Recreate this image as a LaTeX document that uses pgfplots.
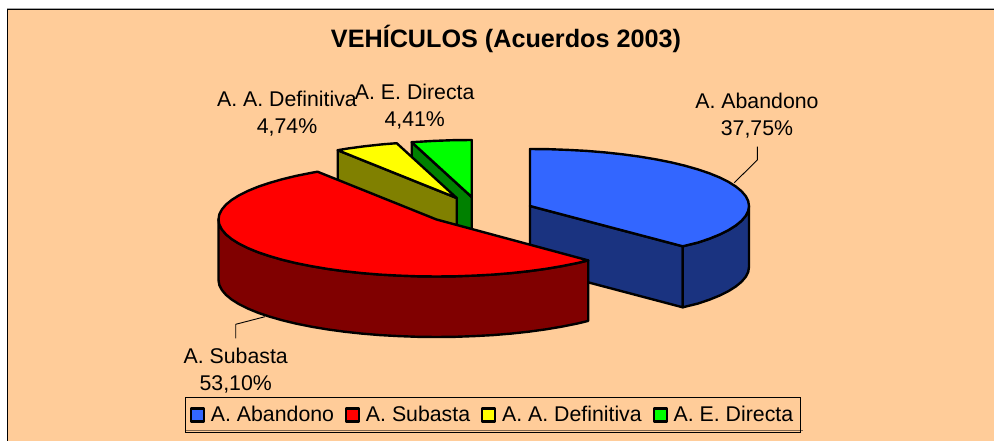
\documentclass[border=0pt]{standalone}
\usepackage{pgfplots}
\pgfplotsset{compat=1.18}
\usepackage{fontspec}
\setmainfont{Liberation Sans}
\definecolor{bg}{HTML}{FFCC99}
\definecolor{blueT}{HTML}{3366FF}
\definecolor{blueS}{HTML}{1A3380}
\definecolor{redT}{HTML}{FF0000}
\definecolor{redS}{HTML}{800000}
\definecolor{yelT}{HTML}{FFFF00}
\definecolor{yelS}{HTML}{808000}
\definecolor{greT}{HTML}{00FF00}
\definecolor{greS}{HTML}{008000}
\begin{document}
\begin{tikzpicture}
\begin{axis}[
  scale only axis, width=994pt, height=441pt,
  xmin=0, xmax=994, ymin=0, ymax=441, y dir=reverse,
  hide axis,
  legend cell align=left,
  legend style={at={(axis cs:184.5,397)}, anchor=north west, legend columns=4,
    draw=black, line width=1pt, fill=none, inner xsep=5pt, inner ysep=7pt,
    font=\fontsize{21.3}{25}\selectfont,
    /tikz/column 1/.style={column sep=3.7pt},
    /tikz/column 3/.style={column sep=3.7pt},
    /tikz/column 5/.style={column sep=3.7pt},
    /tikz/column 7/.style={column sep=3.7pt},
    /tikz/column 2/.style={column sep=9pt},
    /tikz/column 4/.style={column sep=9pt},
    /tikz/column 6/.style={column sep=9pt},
    nodes={inner sep=2pt, line width=0pt}},
  legend image code/.code={\draw[#1, line width=2.2pt] (3pt,-6.5pt) rectangle (16pt,6.5pt);},
]
% legend entries
\addlegendimage{fill=blueT, draw=black}
\addlegendentry{A. Abandono}
\addlegendimage{fill=redT, draw=black}
\addlegendentry{A. Subasta}
\addlegendimage{fill=yelT, draw=black}
\addlegendentry{A. A. Definitiva}
\addlegendimage{fill=greT, draw=black}
\addlegendentry{A. E. Directa\hspace{4pt}}

% background
\addplot[forget plot, draw=gray!70, line width=1pt] coordinates {(7,8.2) (994,8.2)};
\addplot[forget plot, fill=bg, draw=none] coordinates {(7.5,9.5) (994,9.5) (994,441) (7.5,441)} -- cycle;
\addplot[forget plot, draw=black, line width=1.2pt] coordinates {(7.5,441) (7.5,9.5) (994,9.5)};

\pgfplotsset{every axis plot/.append style={line width=2.4pt, line join=round, draw=black, forget plot}}

% A. Abandono: inner cut face, outer face, top
\addplot[fill=blueS] coordinates {(530,206) (682.7,246.3) (682.7,307.3) (530,267)} -- cycle;
\addplot[fill=blueS] coordinates {(749,206) (748.2,211) (745.7,215.9) (741.5,220.8) (735.8,225.5) (728.5,230.1) (719.7,234.5) (709.4,238.7) (697.8,242.6) (682.7,246.3)
  (682.7,307.3) (697.8,303.6) (709.4,299.7) (719.7,295.5) (728.5,291.1) (735.8,286.5) (741.5,281.8) (745.7,276.9) (748.2,272) (749,267)} -- cycle;
\addplot[fill=blueT] coordinates {(530,149) (549.1,149.2) (568,149.9) (586.7,150.9) (604.9,152.4) (622.5,154.3) (639.5,156.6) (655.6,159.3) (670.8,162.3) (684.9,165.7) (697.8,169.4) (709.4,173.3) (719.7,177.5) (728.5,181.9) (735.8,186.5) (741.5,191.2) (745.7,196.1) (748.2,201) (749,206) (748.2,211) (745.7,215.9) (741.5,220.8) (735.8,225.5) (728.5,230.1) (719.7,234.5) (709.4,238.7) (697.8,242.6) (682.7,246.3) (530,206)} -- cycle;

% A. E. Directa
\addplot[fill=greS] coordinates {(411.7,142.2) (471.7,197) (471.7,258) (411.7,203)} -- cycle;
\addplot[fill=greT] coordinates {(411.7,142.2) (433.7,140.9) (452.6,140.2) (471.7,140) (471.7,197)} -- cycle;

% A. A. Definitiva
\addplot[fill=yelS] coordinates {(337.7,150.2) (456.7,198) (456.7,259) (337.7,211)} -- cycle;
\addplot[fill=yelT] coordinates {(337.7,150.2) (347.2,148.6) (364.2,146.3) (381.8,144.4) (396.7,143.2) (456.7,198)} -- cycle;

% A. Subasta: side and top
\addplot[fill=redS] coordinates {(588.2,260.4) (576.6,263.2) (561.5,266.2) (545.5,268.9) (528.6,271.2) (511.1,273.1) (492.9,274.6) (474.4,275.6) (455.5,276.3) (436.5,276.5) (417.5,276.3) (398.6,275.6) (380.1,274.6) (361.9,273.1) (344.4,271.2) (327.5,268.9) (311.5,266.2) (296.4,263.2) (282.4,259.8) (269.5,256.1) (257.9,252.2) (247.7,248) (238.9,243.6) (231.6,239) (225.9,234.3) (221.8,229.4) (219.3,224.5) (218.5,219.5)
 (218.5,280) (219.3,285) (221.8,289.9) (225.9,294.8) (231.6,299.5) (238.9,304.1) (247.7,308.5) (257.9,312.7) (269.5,316.6) (282.4,320.3) (296.4,323.7) (311.5,326.7) (327.5,329.4) (344.4,331.7) (361.9,333.6) (380.1,335.1) (398.6,336.1) (417.5,336.8) (436.5,337) (455.5,336.8) (474.4,336.1) (492.9,335.1) (511.1,333.6) (528.6,331.7) (545.5,329.4) (561.5,326.7) (576.6,323.7) (588.2,320.9)} -- cycle;
\addplot[fill=redT] coordinates {(588.2,260.4) (576.6,263.2) (561.5,266.2) (545.5,268.9) (528.6,271.2) (511.1,273.1) (492.9,274.6) (474.4,275.6) (455.5,276.3) (436.5,276.5) (417.5,276.3) (398.6,275.6) (380.1,274.6) (361.9,273.1) (344.4,271.2) (327.5,268.9) (311.5,266.2) (296.4,263.2) (282.4,259.8) (269.5,256.1) (257.9,252.2) (247.7,248) (238.9,243.6) (231.6,239) (225.9,234.3) (221.8,229.4) (219.3,224.5) (218.5,219.5) (219.3,214.5) (221.8,209.6) (225.9,204.7) (231.6,200) (238.9,195.4) (247.7,191) (257.9,186.8) (269.5,182.9) (282.4,179.2) (296.4,175.8) (311.5,172.8) (317.5,171.7) (436.5,219.5)} -- cycle;

% leaders
\addplot[line width=0.9pt] coordinates {(734.3,182.7) (757.3,160) (757.3,146.7)};
\addplot[line width=0.9pt] coordinates {(265,316.7) (235.7,324.3) (235.7,338.3)};
% legend shadow
\addplot[draw=black!50!bg, line width=1pt] coordinates {(185,430.8) (802.5,430.8)};

\tikzset{lab/.style={align=center, font=\fontsize{21.3}{27}\selectfont, inner sep=0pt}}
\node[font=\bfseries\fontsize{25.2}{30}\selectfont] at (axis cs:506,39) {VEHÍCULOS (Acuerdos 2003)};
\node[lab] at (axis cs:757,115.5) {A. Abandono\\37,75\%};
\node[lab] at (axis cs:287,114) {A. A. Definitiva\\4,74\%};
\node[lab] at (axis cs:414.7,107) {A. E. Directa\\4,41\%};
\node[lab] at (axis cs:235.7,370.5) {A. Subasta\\53,10\%};
\end{axis}
\pgfresetboundingbox
\path[use as bounding box] (current axis.south west) rectangle (current axis.north east);
\end{tikzpicture}
\end{document}
